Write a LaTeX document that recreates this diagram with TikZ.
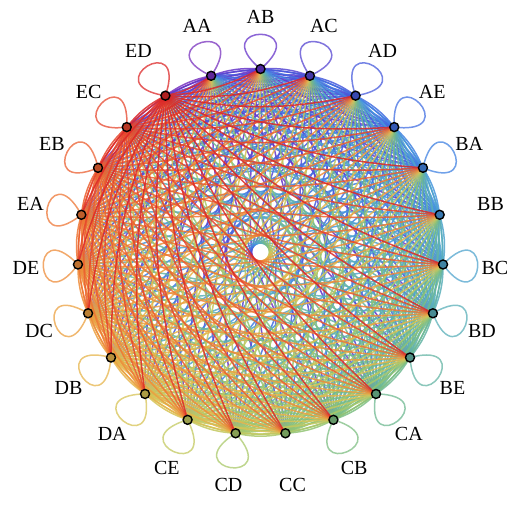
\documentclass[tikz,border=0pt]{standalone}
\usepackage{fontspec}
\setmainfont{Liberation Serif}
\def\states{AA,AB,AC,AD,AE,BA,BB,BC,BD,BE,CA,CB,CC,CD,CE,DA,DB,DC,DE,EA,EB,EC,ED}
% purple -> red
\foreach \r/\g/\b [count=\i] in {120/50/190,100/50/200,85/70/210,70/90/220,65/110/225,65/130/225,70/150/220,80/165/205,90/175/185,100/180/165,110/185/145,125/190/130,145/195/115,170/200/105,195/200/95,215/195/85,230/180/75,235/160/65,238/140/58,238/118/52,235/95/48,230/70/45,220/40/40}
  {\xglobal\definecolor{st\i}{RGB}{\r,\g,\b}}
\tikzset{
  edge/.style={line width=1.5, opacity=0.85},
  selfloop/.style={line width=1.5},
  statelabel/.style={font=\fontsize{20}{24}\selectfont, inner sep=0pt}
}
\begin{document}
\begin{tikzpicture}[x=1pt, y=1pt]
    \useasboundingbox (-260.5,-255) rectangle (261.5,252);
    \foreach \s [count=\i] in \states
        \coordinate (\s) at ({105.652-15.652*(\i-1)}:183);
    \foreach \s [count=\i] in \states {
        \foreach \t [count=\j] in \states {
            \ifnum\i=\j\relax\else
                \draw[edge, st\i] (\s) to[bend right=11.5] (\t);
            \fi
        }
    }
    \foreach \s [count=\i] in \states {
        \pgfmathsetmacro\ang{105.652-15.652*(\i-1)}
        \ifnum\i=7\relax\else\ifnum\i=13\relax\else
            \draw[selfloop, st\i!75] (\s) .. controls +({\ang+50}:72) and +({\ang-50}:72) .. (\s);
        \fi\fi
        \filldraw[fill=st\i!80!black, draw=black, line width=1.4] (\s) circle (4.5);
        \node[statelabel] (l\s) at (\ang:235) {\s};
    }
\end{tikzpicture}
\end{document}
